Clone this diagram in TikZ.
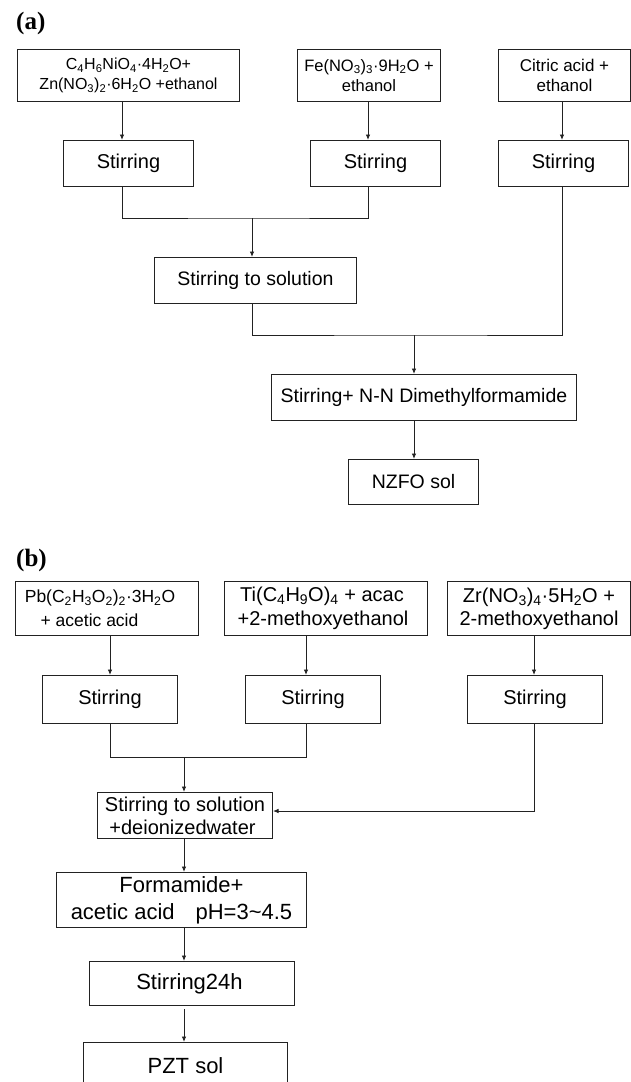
\documentclass[tikz,border=0pt]{standalone}
\usepackage{fontspec}
\setmainfont{Liberation Sans}
\newfontfamily\serifbold{Liberation Serif}
\usetikzlibrary{arrows.meta}
\definecolor{linec}{HTML}{222222}
\newcommand\fsz[2]{\fontsize{#1}{#2}\selectfont}
\newcommand\sub[1]{\textsubscript{#1}}
\tikzset{
  box/.style={draw=linec, line width=1pt, rectangle, inner sep=0pt, anchor=north west, align=center, text=black},
  conn/.style={draw=linec, line width=0.9pt},
  arr/.style={conn, -{Latex[length=5.5pt,width=4.5pt]}},
  lab/.style={anchor=north west, inner sep=0pt, font=\serifbold\bfseries\fsz{25}{25}},
}
\begin{document}
\begin{tikzpicture}[x=1pt,y=-1pt]
\useasboundingbox (0,0) rectangle (631,1082);
\clip (0,0) rectangle (631,1082);
% column / junction coordinates
\coordinate (c1) at (122,0);
\coordinate (c2) at (368,0);
\coordinate (c3) at (562,0);
\coordinate (c4) at (252,0);
\coordinate (jA) at (252,218);
\coordinate (jB) at (414,335);
\coordinate (d1) at (110,0);
\coordinate (d2) at (306,0);
\coordinate (d3) at (534,0);
\coordinate (jC) at (184,757);
\coordinate (jD) at (0,811);

% ---------- (a) ----------
\node[lab] (la) at (16,12) {(a)};
\node[box, minimum width=222pt, minimum height=52pt, font=\fsz{16}{20}] (A1) at (17,49)
  {C\sub{4}H\sub{6}NiO\sub{4}·4H\sub{2}O+\\Zn(NO\sub{3})\sub{2}·6H\sub{2}O +ethanol};
\node[box, minimum width=143pt, minimum height=52pt, font=\fsz{16.5}{20}] (A2) at (297,49)
  {Fe(NO\sub{3})\sub{3}·9H\sub{2}O +\\ethanol};
\node[box, minimum width=132pt, minimum height=52pt, font=\fsz{17}{20}] (A3) at (498,49)
  {Citric acid +\\ethanol};
\node[box, minimum width=130pt, minimum height=46pt, font=\fsz{20}{23}] (A4) at (63,140) {Stirring};
\node[box, minimum width=130pt, minimum height=46pt, font=\fsz{20}{23}] (A5) at (310,140) {Stirring};
\node[box, minimum width=130pt, minimum height=46pt, font=\fsz{20}{23}] (A6) at (498,140) {Stirring};
\node[box, minimum width=202pt, minimum height=46pt, font=\fsz{19.5}{23}] (AS) at (154,257) {Stirring to solution};
\node[box, minimum width=305pt, minimum height=46pt, font=\fsz{19.5}{23}] (AD) at (271,374) {Stirring+ N-N Dimethylformamide};
\node[box, minimum width=130pt, minimum height=45pt, font=\fsz{19.5}{23}] (AN) at (348,459) {NZFO sol};

\draw[arr] (A1.south -| c1) -- (A4.north -| c1);
\draw[arr] (A2.south -| c2) -- (A5.north -| c2);
\draw[arr] (A3.south -| c3) -- (A6.north -| c3);
\draw[conn] (A4.south -| c1) |- (jA) -| (A5.south -| c2);
\draw[arr] (jA) -- (AS.north -| jA);
\draw[conn] (AS.south -| c4) |- (jB) -| (A6.south -| c3);
\draw[arr] (jB) -- (AD.north -| jB);
\draw[arr] (AD.south -| jB) -- (AN.north -| jB);

% ---------- (b) ----------
\node[lab] (lb) at (16,549) {(b)};
\node[box, minimum width=183pt, minimum height=54pt, font=\fsz{17.5}{24}] (B1) at (15,581)
  {Pb(C\sub{2}H\sub{3}O\sub{2})\sub{2}·3H\sub{2}O\hspace*{14pt}\\+ acetic acid\hspace*{35pt}};
\node[box, minimum width=203pt, minimum height=54pt, font=\fsz{20}{24}] (B2) at (224,581)
  {Ti(C\sub{4}H\sub{9}O)\sub{4} + acac\hspace*{8pt}\\+2-methoxyethanol\hspace*{6pt}};
\node[box, minimum width=183pt, minimum height=54pt, font=\fsz{20}{23}] (B3) at (447,581)
  {Zr(NO\sub{3})\sub{4}·5H\sub{2}O +\\2-methoxyethanol};
\node[box, minimum width=135pt, minimum height=48pt, font=\fsz{20}{23}] (B4) at (42,675) {Stirring};
\node[box, minimum width=135pt, minimum height=48pt, font=\fsz{20}{23}] (B5) at (245,675) {Stirring};
\node[box, minimum width=135pt, minimum height=48pt, font=\fsz{20}{23}] (B6) at (467,675) {Stirring};
\node[box, minimum width=175pt, minimum height=46pt, font=\fsz{20}{23}] (BS) at (97,792)
  {Stirring to solution\\+deionizedwater\hspace*{5pt}};
\node[box, minimum width=250pt, minimum height=55pt, font=\fsz{22}{27}] (BF) at (56,872)
  {Formamide+\\acetic acid\hspace{0.95em}pH=3\textasciitilde4.5};
\node[box, minimum width=205pt, minimum height=44pt, font=\fsz{22}{25}] (BT) at (89,961) {Stirring24h\hspace*{5pt}};
\node[box, minimum width=204pt, minimum height=46pt, font=\fsz{22}{25}] (BP) at (83,1042) {PZT sol};

\draw[arr] (B1.south -| d1) -- (B4.north -| d1);
\draw[arr] (B2.south -| d2) -- (B5.north -| d2);
\draw[arr] (B3.south -| d3) -- (B6.north -| d3);
\draw[conn] (B4.south -| d1) |- (jC) -| (B5.south -| d2);
\draw[arr] (jC) -- (BS.north -| jC);
\draw[arr] (B6.south -| d3) |- (BS.east |- jD);
\draw[arr] (BS.south -| jC) -- (BF.north -| jC);
\draw[arr] (BF.south -| jC) -- (BT.north -| jC);
\draw[arr] ([yshift=-3pt]BT.south -| jC) -- (BP.north -| jC);
\end{tikzpicture}
\end{document}
